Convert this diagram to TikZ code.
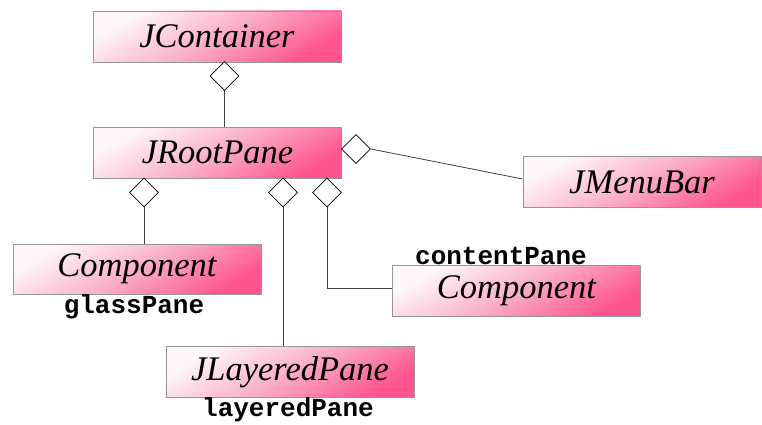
\documentclass[tikz,border=0pt]{standalone}
\usepackage{fontspec}
\setmainfont{Liberation Serif}
\setmonofont{Liberation Mono}
\usetikzlibrary{shapes.geometric}
\definecolor{pinklite}{RGB}{255,248,250}
\definecolor{pinkmid}{RGB}{250,175,198}
\definecolor{pinkdeep}{RGB}{255,85,140}
\definecolor{boxline}{RGB}{150,150,150}
\begin{document}
\begin{tikzpicture}[x=1pt,y=-1pt,
  cls/.style={draw=boxline, line width=0.9pt, rectangle, minimum height=51pt, minimum width=248pt, inner sep=0pt,
    shading=axis, top color=pinklite, bottom color=pinkdeep, middle color=pinkmid, shading angle=30,
    font=\fontsize{34.5}{40}\selectfont\itshape},
  agg/.style={draw, shape=diamond, fill=white, minimum width=29pt, minimum height=29pt, inner sep=0pt, line width=0.7pt},
  link/.style={draw=black!75, line width=0.8pt},
  role/.style={font=\fontsize{26}{28}\selectfont\ttfamily\bfseries, inner sep=0pt}]
\useasboundingbox (0,0) rectangle (762,425);
\node[cls] (jc) at (217,36.5) {JContainer};
\node[cls] (jr) at (217.5,152.5) {JRootPane};
\node[cls, minimum width=238pt] (jm) at (642,182) {JMenuBar};
\node[cls, minimum height=50pt] (cg) at (137,269) {Component};
\node[cls] (cc) at (516.5,291) {Component};
\node[cls] (jl) at (290,372) {JLayeredPane};
\node[agg] (d1) at (224.5,76) {};
\node[agg] (dm) at (356,149) {};
\node[agg] (dg) at (144,192.5) {};
\node[agg] (dl) at (283,192.5) {};
\node[agg] (dc) at (327,192.5) {};
\node[role] (lg) at (134,307) {glassPane};
\node[role] (lc) at (501,256) {contentPane};
\node[role] (ll) at (288,410) {layeredPane};
\draw[link] (d1.south) -- (d1.south |- jr.north);
\draw[link] (dm.east) -- ([yshift=3pt]jm.west);
\draw[link] (dg.south) -- (dg.south |- cg.north);
\draw[link] (dl.south) -- (dl.south |- jl.north);
\draw[link] (dc.south) |- ([yshift=3pt]cc.west);
\end{tikzpicture}
\end{document}
